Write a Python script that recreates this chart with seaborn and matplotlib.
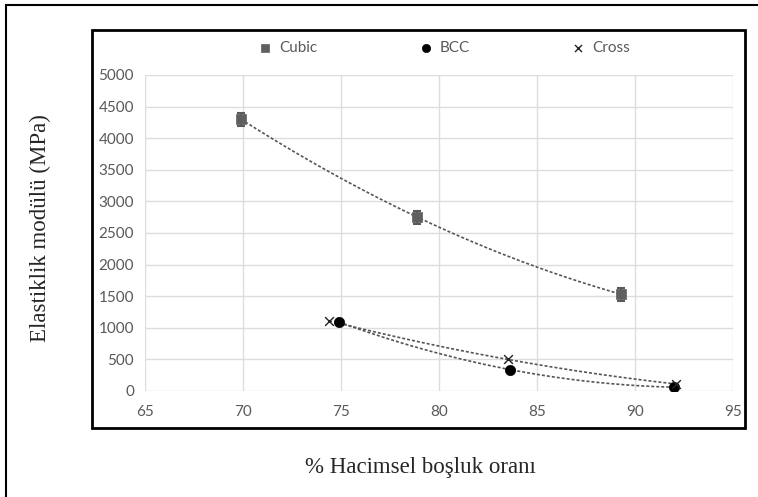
import numpy as np
import pandas as pd
import matplotlib
matplotlib.use("Agg")
import matplotlib.pyplot as plt
from matplotlib.patches import Rectangle
import seaborn as sns

# ---- data ----
series_names = ["Cubic", "BCC", "Cross"]
cubic_x = [69.9, 78.9, 89.3]
cubic_y = [4300, 2750, 1530]
cubic_err = [100, 100, 100]
bcc_x = [74.9, 83.6, 92.0]
bcc_y = [1090, 340, 60]
cross_x = [74.4, 83.5, 92.1]
cross_y = [1110, 500, 110]
x_ticks = [65, 70, 75, 80, 85, 90, 95]
y_ticks = [0, 500, 1000, 1500, 2000, 2500, 3000, 3500, 4000, 4500, 5000]
x_label = "% Hacimsel boşluk oranı"
y_label = "Elastiklik modülü (MPa)"

df = pd.DataFrame({
    "x": cubic_x + bcc_x + cross_x,
    "y": cubic_y + bcc_y + cross_y,
    "series": ["Cubic"] * 3 + ["BCC"] * 3 + ["Cross"] * 3,
})

sns.set_style("white")
plt.rcParams["font.family"] = ["Lato", "DejaVu Sans"]

W, H = 758, 497
fig = plt.figure(figsize=(W / 100, H / 100), dpi=100)
ax = fig.add_axes([145 / W, 1 - 391 / H, (733 - 145) / W, (391 - 75) / H])

tick_col = "#595959"
grid_col = "#dddddd"

# trendlines (2nd order polynomial fits, like the spreadsheet trendline)
for xs, ys in [(cubic_x, cubic_y), (bcc_x, bcc_y), (cross_x, cross_y)]:
    coef = np.polyfit(xs, ys, 2)
    xx = np.linspace(min(xs), max(xs), 200)
    ax.plot(xx, np.polyval(coef, xx), color="#555555", lw=1.2,
            linestyle=(0, (1.8, 1.2)), zorder=2)

# error bars on Cubic
ax.errorbar(cubic_x, cubic_y, yerr=cubic_err, fmt="none", ecolor="#595959",
            elinewidth=1.5, capsize=3, capthick=1.5, zorder=3)

sns.scatterplot(data=df[df.series == "Cubic"], x="x", y="y", color="#5f5f5f",
                marker="s", s=55, edgecolor="#5f5f5f", linewidth=0.5, ax=ax, zorder=4,
                label="Cubic")
sns.scatterplot(data=df[df.series == "BCC"], x="x", y="y", color="black",
                marker="o", s=55, edgecolor="black", linewidth=0.5, ax=ax, zorder=4,
                label="BCC")
sns.scatterplot(data=df[df.series == "Cross"], x="x", y="y", color="#222222",
                marker="x", s=40, linewidth=1.0, ax=ax, zorder=5, label="Cross")

ax.set_xlim(65, 95)
ax.set_ylim(0, 5000)
ax.set_xticks(x_ticks)
ax.set_yticks(y_ticks)
ax.set_xticklabels([str(t) for t in x_ticks])
ax.set_yticklabels([str(t) for t in y_ticks])
ax.grid(True, color=grid_col, lw=1)
ax.set_axisbelow(True)
for s in ax.spines.values():
    s.set_visible(False)
ax.tick_params(axis="both", colors=grid_col, labelcolor=tick_col, labelsize=11,
               length=4, width=1)
ax.tick_params(axis="x", pad=6)
ax.tick_params(axis="y", pad=4)
ax.set_xlabel("")
ax.set_ylabel("")

handles, labels = ax.get_legend_handles_labels()
if ax.legend_:
    ax.legend_.remove()
fig.legend(handles, labels, loc="center", bbox_to_anchor=(443 / W, 1 - 48 / H),
           ncol=3, frameon=False, fontsize=11, columnspacing=6.5,
           handletextpad=0.3, handlelength=1.2, labelcolor=tick_col,
           markerscale=0.8)

# axis titles
fig.text(420 / W, 1 - 467 / H, x_label, ha="center", va="center",
         fontsize=16.5, family=["Liberation Serif", "DejaVu Serif"])
fig.text(40 / W, 1 - 228 / H, y_label, ha="center", va="center", rotation=90,
         fontsize=16.5, family=["Liberation Serif", "DejaVu Serif"])

# inner frame and outer frame
fig.patches.append(Rectangle((92 / W, 1 - 428 / H), (745 - 92) / W, (428 - 30) / H,
                             transform=fig.transFigure, fill=False, ec="black", lw=2))
fig.patches.append(Rectangle((6 / W, -0.05), 1.05, (1 - 5 / H) + 0.05,
                             transform=fig.transFigure, fill=False, ec="black", lw=1.5))

fig.savefig("out.png", dpi=100, facecolor="white")
